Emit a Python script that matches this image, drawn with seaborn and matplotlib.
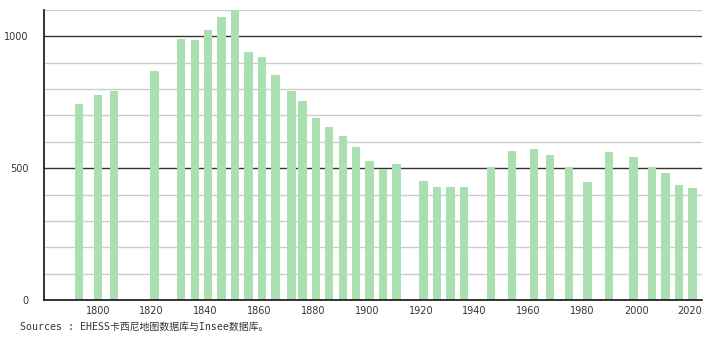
import matplotlib
matplotlib.use("Agg")
import matplotlib.pyplot as plt
import seaborn as sns
import pandas as pd

years = [1793, 1800, 1806, 1821, 1831, 1836, 1841, 1846, 1851, 1856, 1861, 1866,
         1872, 1876, 1881, 1886, 1891, 1896, 1901, 1906, 1911, 1921, 1926, 1931,
         1936, 1946, 1954, 1962, 1968, 1975, 1982, 1990, 1999, 2006, 2011, 2016, 2021]
population = [745, 779, 791, 868, 990, 986, 1025, 1072, 1102, 942, 921, 854,
              791, 754, 689, 657, 621, 582, 529, 497, 515, 453, 428, 428,
              430, 503, 566, 571, 551, 503, 449, 560, 544, 504, 480, 438, 423]
x_ticks = [1800, 1820, 1840, 1860, 1880, 1900, 1920, 1940, 1960, 1980, 2000, 2020]
y_major = [0, 500, 1000]
y_minor = [100, 200, 300, 400, 600, 700, 800, 900, 1100]
source_text = "Sources : EHESS卡西尼地图数据库与Insee数据库。"

sns.set_style("white")
plt.rcParams['font.family'] = ['DejaVu Sans', 'Noto Sans CJK SC']

df = pd.DataFrame({"year": years, "pop": population})

fig = plt.figure(figsize=(7.1, 3.4), dpi=100)
ax = fig.add_axes([44/710, 1 - 300/340, (702-44)/710, (300-10)/340])

for v in y_minor:
    ax.axhline(v, color="#cccccc", lw=1, zorder=0)
for v in y_major[1:]:
    ax.axhline(v, color="#333333", lw=1, zorder=0)

sns.barplot(data=df, x="year", y="pop", native_scale=True, width=0.78,
            color="#a9dfb1", saturation=1, ax=ax, zorder=2, errorbar=None,
            linewidth=0, edgecolor="none")

ax.set_xlim(1780, 2024.5)
ax.set_ylim(0, 1100)
ax.set_xticks(x_ticks)
ax.set_xticklabels([str(t) for t in x_ticks])
ax.set_yticks(y_major)
ax.set_yticklabels([str(t) for t in y_major])
ax.set_xlabel("")
ax.set_ylabel("")
ax.tick_params(axis="x", length=0, pad=4, labelsize=7, labelcolor="#333333")
ax.tick_params(axis="y", length=5, width=1, color="#222222", pad=6, labelsize=7, labelcolor="#333333")
for s in ["top", "right"]:
    ax.spines[s].set_visible(False)
for s in ["left", "bottom"]:
    ax.spines[s].set_color("#111111")
    ax.spines[s].set_linewidth(1.2)
    ax.spines[s].set_zorder(3)

fig.text(20/710, 1 - 327/340, source_text, fontsize=7.1, color="#333333",
         va="center", ha="left", family=['DejaVu Sans Mono', 'Noto Sans CJK SC'])

fig.savefig("out.png", dpi=100)
